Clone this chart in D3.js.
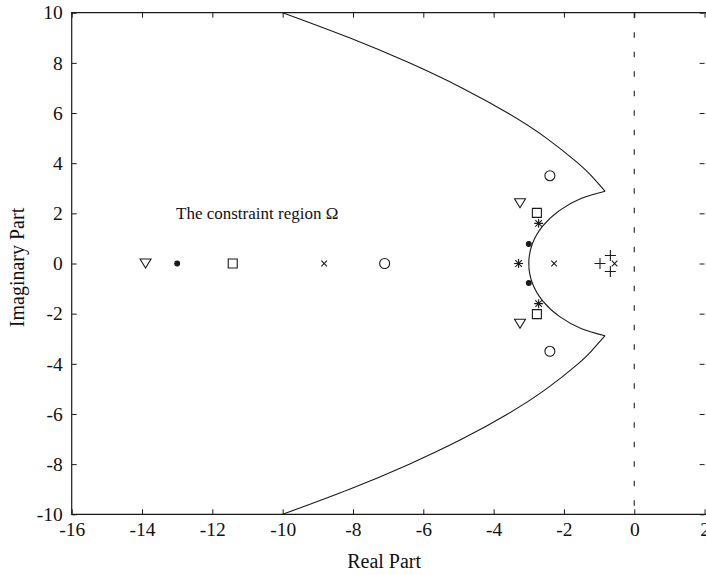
<!DOCTYPE html>
<html>
<head>
<meta charset="utf-8">
<script src="https://cdn.jsdelivr.net/npm/d3@7"></script>
<style>
  body { margin: 0; background: #fff; }
  svg { display: block; }
  text { font-family: "Liberation Serif", "DejaVu Serif", serif; fill: #111; }
</style>
</head>
<body>
<svg id="chart" width="706" height="575"></svg>
<script>
// ---------- data ----------
const xTicks = [-16, -14, -12, -10, -8, -6, -4, -2, 0, 2];
const xTickLabels = ["-16", "-14", "-12", "-10", "-8", "-6", "-4", "-2", "0", "2"];
const yTicks = [-10, -8, -6, -4, -2, 0, 2, 4, 6, 8, 10];
const yTickLabels = ["-10", "-8", "-6", "-4", "-2", "0", "2", "4", "6", "8", "10"];

// pole series, one per marker type
const circleRe   = [-7.1, -2.4, -2.4];
const circleIm   = [0, 3.5, -3.5];
const triangleRe = [-13.9, -3.25, -3.25];
const triangleIm = [0, 2.4, -2.4];
const dotRe      = [-13.0, -3.0, -3.0];
const dotIm      = [0, 0.78, -0.78];
const squareRe   = [-11.42, -2.77, -2.77];
const squareIm   = [0, 2.02, -2.02];
const xmarkRe    = [-8.82, -2.28, -0.56];
const xmarkIm    = [0, 0, 0];
const starRe     = [-3.29, -2.72, -2.72];
const starIm     = [0, 1.6, -1.6];
const plusRe     = [-0.975, -0.68, -0.68];
const plusIm     = [0, 0.32, -0.32];

// constraint region boundary
const outerUpperRe = [-10, -8.1, -6.4, -4.9, -3.6, -2.5, -1.6, -1.225, -0.83];
const outerUpperIm = [10, 9, 8, 7, 6, 5, 4, 3.5, 2.88];
const innerArcRe = [-0.83, -1.5, -2.12, -2.6, -2.9, -3.0, -2.9, -2.6, -2.12, -1.5, -0.83];
const innerArcIm = [2.88, 2.6, 2.12, 1.5, 0.78, 0, -0.78, -1.5, -2.12, -2.6, -2.88];
const outerLowerRe = [-0.83, -1.225, -1.6, -2.5, -3.6, -4.9, -6.4, -8.1, -10];
const outerLowerIm = [-2.88, -3.5, -4, -5, -6, -7, -8, -9, -10];

const regionLabel = "The constraint region \u03A9";
const xLabel = "Real Part";
const yLabel = "Imaginary Part";

// ---------- layout ----------
const svg = d3.select("#chart");
const L = 71.7, R = 704.6, T = 12.7, B = 514.3;
const x = d3.scaleLinear().domain([-16, 2]).range([L, R]);
const y = d3.scaleLinear().domain([-10, 10]).range([B, T]);
const ink = "#1a1a1a";

// dashed imaginary axis at Re = 0
svg.append("line")
  .attr("x1", x(0)).attr("x2", x(0)).attr("y1", y(10)).attr("y2", y(-10))
  .attr("stroke", "#333").attr("stroke-width", 1.2)
  .attr("stroke-dasharray", "5.5,14");

// boundary curves
const line = d3.line().x(d => x(d[0])).y(d => y(d[1])).curve(d3.curveNatural);
const zip = (a, b) => a.map((v, i) => [v, b[i]]);
[zip(outerUpperRe, outerUpperIm), zip(innerArcRe, innerArcIm), zip(outerLowerRe, outerLowerIm)]
  .forEach(pts => {
    svg.append("path").attr("d", line(pts))
      .attr("fill", "none").attr("stroke", ink).attr("stroke-width", 1.1);
  });

// axes (ticks inward)
const fmtX = d => xTickLabels[xTicks.indexOf(d)];
const fmtY = d => yTickLabels[yTicks.indexOf(d)];
const fs = "19.5px";

const gB = svg.append("g").attr("transform", `translate(0,${B})`)
  .call(d3.axisBottom(x).tickValues(xTicks).tickFormat(fmtX).tickSizeInner(-5).tickSizeOuter(0).tickPadding(8));
const gT = svg.append("g").attr("transform", `translate(0,${T})`)
  .call(d3.axisTop(x).tickValues(xTicks).tickFormat("").tickSizeInner(-5).tickSizeOuter(0));
const gL = svg.append("g").attr("transform", `translate(${L},0)`)
  .call(d3.axisLeft(y).tickValues(yTicks).tickFormat(fmtY).tickSizeInner(-5).tickSizeOuter(0).tickPadding(9));
const gR = svg.append("g").attr("transform", `translate(${R},0)`)
  .call(d3.axisRight(y).tickValues(yTicks).tickFormat("").tickSizeInner(-5).tickSizeOuter(0));

[gB, gT, gL, gR].forEach(g => {
  g.attr("font-family", null);
  g.selectAll(".tick line").attr("stroke", ink);
  g.selectAll("text").style("font-size", fs).attr("fill", "#111")
    .style("font-family", '"Liberation Serif", serif');
  g.select(".domain").remove();
});

// frame (left, top, bottom; right edge falls at the picture border)
svg.append("path")
  .attr("d", `M${R + 2},${T}H${L}V${B}H${R + 2}`)
  .attr("fill", "none").attr("stroke", ink).attr("stroke-width", 1.2);

// ---------- markers ----------
const symTriDown = { draw(c, s) { const w = 5.5, h = 4.5; c.moveTo(-w, -h); c.lineTo(w, -h); c.lineTo(0, h); c.closePath(); } };
const symSquare = { draw(c, s) { const a = 4.5; c.moveTo(-a, -a); c.lineTo(a, -a); c.lineTo(a, a); c.lineTo(-a, a); c.closePath(); } };
const symCircle = { draw(c, s) { c.moveTo(5, 0); c.arc(0, 0, 5, 0, 2 * Math.PI); } };
const symDot = { draw(c, s) { c.moveTo(2.4, 0); c.arc(0, 0, 2.4, 0, 2 * Math.PI); } };
const symX = { draw(c, s) { const a = 2.8; c.moveTo(-a, -a); c.lineTo(a, a); c.moveTo(-a, a); c.lineTo(a, -a); } };
const symPlus = { draw(c, s) { const a = 5.5; c.moveTo(-a, 0); c.lineTo(a, 0); c.moveTo(0, -a); c.lineTo(0, a); } };
const symStar = { draw(c, s) { const a = 4.5, b = 3.3; c.moveTo(-a, 0); c.lineTo(a, 0); c.moveTo(0, -a); c.lineTo(0, a);
  c.moveTo(-b, -b); c.lineTo(b, b); c.moveTo(-b, b); c.lineTo(b, -b); } };

const series = [
  { re: circleRe, im: circleIm, type: symCircle, fill: false },
  { re: triangleRe, im: triangleIm, type: symTriDown, fill: false },
  { re: dotRe, im: dotIm, type: symDot, fill: true },
  { re: squareRe, im: squareIm, type: symSquare, fill: false },
  { re: xmarkRe, im: xmarkIm, type: symX, fill: false },
  { re: starRe, im: starIm, type: symStar, fill: false },
  { re: plusRe, im: plusIm, type: symPlus, fill: false }
];
series.forEach(sr => {
  const sym = d3.symbol().type(sr.type);
  svg.append("g").selectAll("path")
    .data(zip(sr.re, sr.im))
    .join("path")
    .attr("transform", d => `translate(${x(d[0])},${y(d[1])})`)
    .attr("d", sym())
    .attr("fill", sr.fill ? ink : "none")
    .attr("stroke", ink)
    .attr("stroke-width", 1.1);
});

// ---------- text ----------
svg.append("text").attr("x", 176).attr("y", 219)
  .style("font-size", "17px").text(regionLabel);

svg.append("text")
  .attr("x", (L + R) / 2 - 4).attr("y", 568)
  .attr("text-anchor", "middle").style("font-size", "20px").text(xLabel);

svg.append("text")
  .attr("transform", `translate(24,${(T + B) / 2 + 4}) rotate(-90)`)
  .attr("text-anchor", "middle").style("font-size", "20px").text(yLabel);
</script>
</body>
</html>
